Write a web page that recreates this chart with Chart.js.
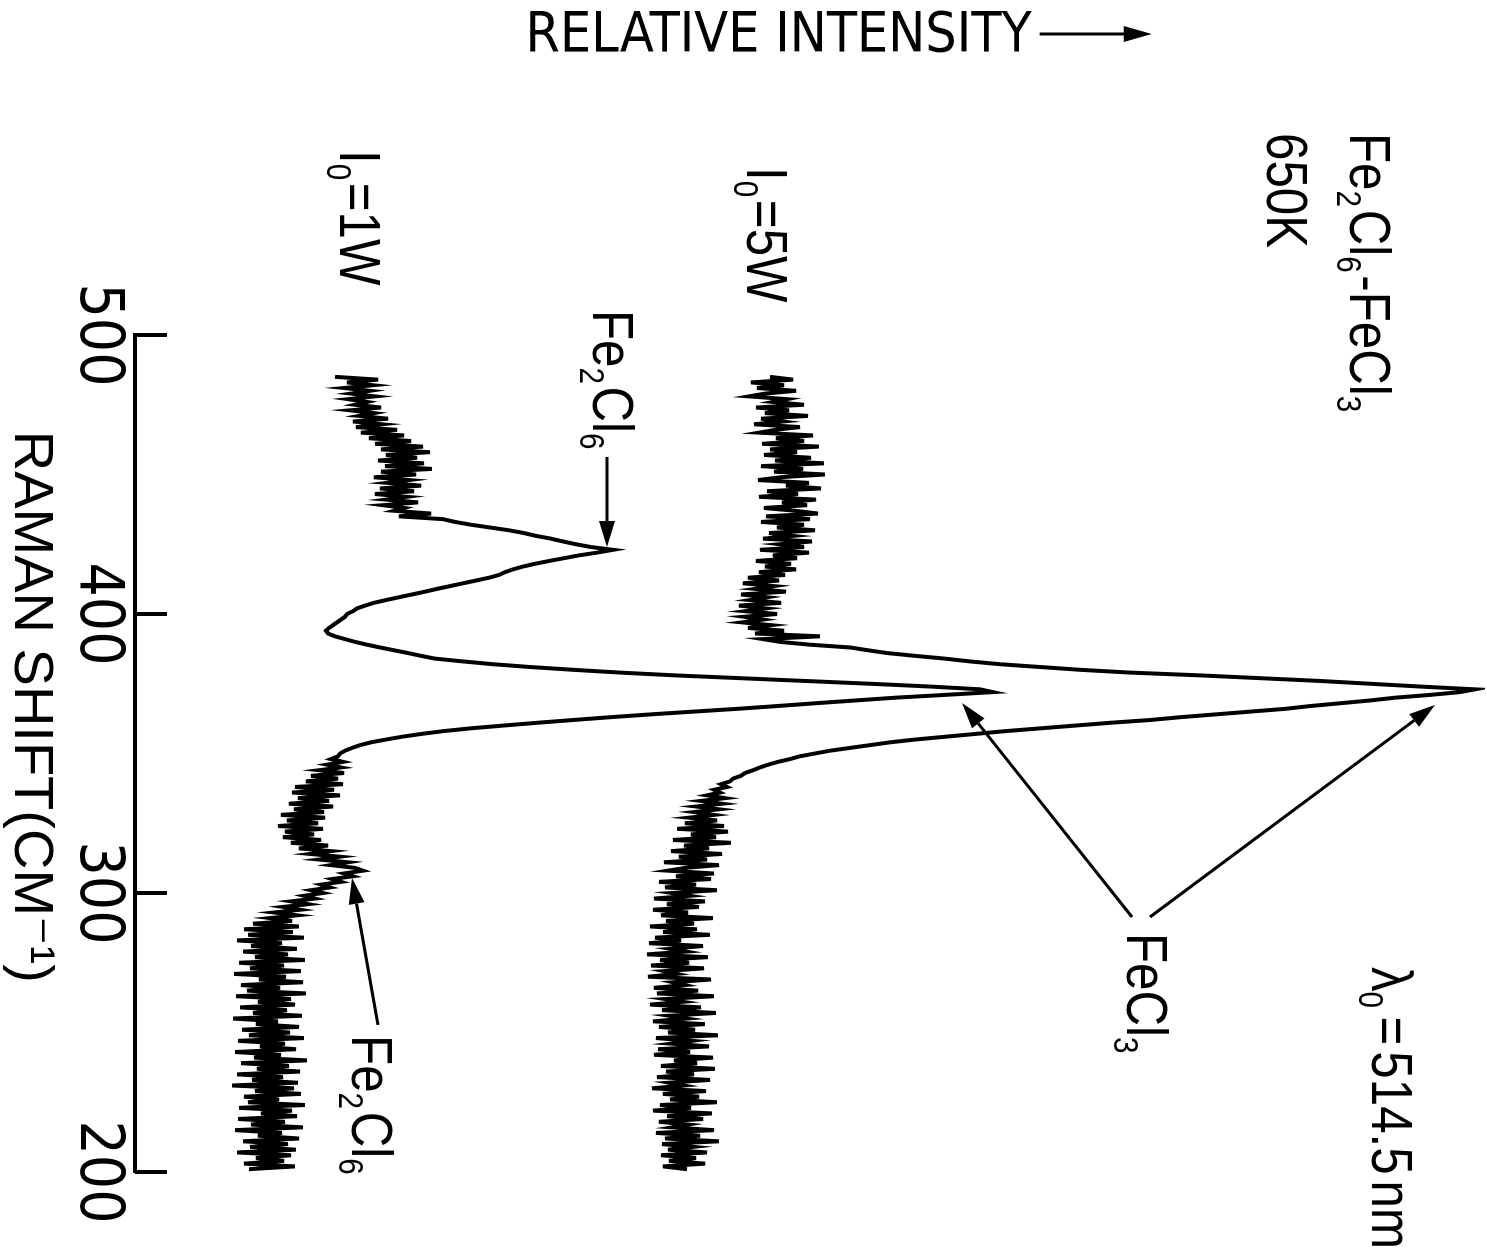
<!DOCTYPE html>
<html>
<head>
<meta charset="utf-8">
<script src="https://cdn.jsdelivr.net/npm/chart.js@4/dist/chart.umd.min.js"></script>
<style>
  html, body { margin: 0; padding: 0; background: #fff; width: 1487px; height: 1258px; overflow: hidden; }
  /* the plot is laid out upright, then turned a quarter turn clockwise so it reads sideways */
  #frame { position: absolute; left: 0; top: 0; width: 1258px; height: 1487px;
           transform-origin: 0 0; transform: translateX(1487px) rotate(90deg); }
</style>
</head>
<body>
<div id="frame"><canvas id="spectrum" width="1258" height="1487"></canvas></div>
<script>
// Raman spectra of Fe2Cl6 / FeCl3 vapour at 650 K for two laser powers.
// One sample per cm-1, from SHIFT_FIRST down to SHIFT_LAST.
const SHIFT_FIRST = 485;
const SHIFT_LAST = 201;
const shiftTicks = [500, 400, 300, 200];

const intensity5W = [
  63.5, 65.8, 61.6, 64.9, 62.2, 66.1, 63.0, 61.4, 65.2, 63.8,     // 485-476
  66.9, 62.1, 65.4, 63.0, 67.3, 62.6, 64.8, 61.9, 66.5, 64.0,     // 475-466
  62.4, 67.8, 64.1, 66.9, 62.7, 68.4, 63.5, 66.2, 62.9, 67.6,     // 465-456
  64.0, 68.9, 62.6, 66.8, 63.9, 69.0, 64.5, 62.3, 67.4, 65.1,     // 455-446
  68.6, 63.2, 66.3, 62.4, 68.1, 64.7, 67.2, 62.9, 66.0, 68.3,     // 445-436
  63.1, 67.5, 62.6, 66.9, 64.2, 68.0, 63.4, 65.8, 62.8, 67.7,     // 435-426
  64.5, 66.9, 62.5, 67.4, 63.8, 66.2, 62.1, 65.6, 63.0, 66.1,     // 425-416
  62.4, 65.0, 61.3, 64.4, 60.8, 63.9, 62.0, 65.1, 60.6, 63.2,     // 415-406
  61.5, 64.6, 60.4, 63.1, 61.0, 64.2, 60.9, 62.8, 60.7, 63.6,     // 405-396
  61.3, 64.9, 62.0, 68.5, 62.8, 64.5, 67.5, 71.5, 73.3, 75.2,     // 395-386
  78.0, 81.0, 83.5, 86.5, 90.5, 94.5, 99.5, 106.5, 112.5, 118.5,  // 385-376
  123.5, 128.5, 134.0, 132.5, 129.5, 126.0, 123.5, 120.5, 117.5, 115.0, // 375-366
  111.5, 108.0, 104.5, 101.5, 97.5, 94.0, 90.5, 87.0, 84.0, 81.0, // 365-356
  78.0, 75.5, 73.5, 71.5, 69.5, 68.0, 66.5, 65.5, 64.3, 63.3,     // 355-346
  62.5, 61.8, 61.0, 60.6, 59.8, 59.5, 58.6, 59.2, 57.9, 58.5,     // 345-336
  57.2, 59.0, 56.6, 58.7, 56.1, 58.4, 55.9, 57.9, 55.4, 58.2,     // 335-326
  55.0, 58.9, 54.2, 59.3, 55.6, 58.1, 53.8, 59.6, 54.9, 57.4,     // 325-316
  53.6, 58.7, 54.4, 57.2, 52.9, 58.4, 55.0, 53.3, 57.9, 54.1,     // 315-306
  57.6, 52.4, 56.1, 53.0, 58.2, 53.7, 55.5, 51.9, 57.0, 53.2,     // 305-296
  56.4, 51.8, 55.3, 52.6, 57.8, 53.1, 55.9, 51.5, 56.2, 52.8,     // 295-286
  57.5, 52.0, 54.6, 51.4, 56.8, 53.5, 55.1, 51.2, 57.3, 52.5,     // 285-276
  55.4, 51.6, 56.9, 52.9, 54.2, 51.3, 57.6, 53.8, 55.0, 51.9,     // 275-266
  56.3, 52.2, 57.9, 53.0, 54.8, 51.5, 56.6, 52.7, 58.1, 53.4,     // 265-256
  55.2, 51.8, 57.0, 52.4, 56.0, 53.3, 58.3, 52.1, 55.7, 53.6,     // 255-246
  57.4, 52.3, 55.5, 51.9, 57.8, 53.9, 56.2, 52.6, 58.0, 53.1,     // 245-236
  55.9, 52.2, 57.5, 53.4, 54.9, 51.7, 57.1, 52.8, 56.4, 53.5,     // 235-226
  58.2, 52.5, 55.6, 51.8, 57.7, 53.2, 56.8, 52.4, 55.3, 53.7,     // 225-216
  57.9, 52.1, 56.5, 53.0, 58.4, 52.7, 55.8, 53.3, 57.2, 52.6,     // 215-206
  56.1, 53.4, 57.0, 52.8, 55.2                                    // 205-201
];

const intensity1W = [
  20.0, 24.3, 21.2, 23.8, 20.9, 23.5, 21.6, 24.0, 21.3, 23.2,     // 485-476
  22.0, 24.6, 21.5, 23.9, 22.4, 25.3, 21.8, 24.7, 22.1, 26.2,     // 475-466
  22.6, 26.9, 23.4, 27.6, 24.0, 28.8, 24.6, 29.5, 25.1, 28.2,     // 465-456
  24.3, 28.9, 25.0, 29.7, 24.6, 28.1, 23.9, 27.4, 25.2, 28.6,     // 455-446
  24.5, 27.9, 24.0, 27.2, 25.1, 28.3, 24.8, 26.9, 25.9, 29.6,     // 445-436
  26.4, 30.8, 32.0, 33.6, 35.5, 37.4, 38.9, 40.1, 41.6, 42.8,     // 435-426
  44.1, 45.6, 47.8, 46.2, 44.4, 42.9, 41.4, 40.0, 38.8, 37.8,     // 425-416
  37.0, 36.4, 35.4, 34.1, 32.8, 31.5, 30.2, 29.0, 27.7, 26.4,     // 415-406
  25.1, 23.9, 23.0, 22.2, 21.8, 21.2, 21.0, 20.6, 20.2, 19.8,     // 405-396
  19.4, 19.1, 19.3, 20.0, 21.0, 22.0, 23.2, 24.5, 25.9, 27.3,     // 395-386
  28.6, 30.0, 32.8, 35.8, 39.5, 43.8, 48.5, 54.0, 60.5, 67.0,     // 385-376
  73.5, 79.5, 84.5, 85.8, 81.0, 76.0, 72.0, 68.0, 64.2, 60.2,     // 375-366
  55.8, 51.5, 47.5, 43.8, 40.2, 36.8, 33.5, 30.8, 28.6, 26.7,     // 365-356
  25.1, 23.6, 22.5, 21.7, 21.0, 20.5, 20.3, 19.6, 20.8, 19.2,     // 355-346
  20.6, 18.4, 20.9, 17.6, 20.3, 17.1, 20.8, 16.0, 19.9, 15.7,     // 345-336
  20.5, 16.3, 19.4, 15.4, 19.8, 15.9, 18.9, 14.6, 19.0, 15.2,     // 335-326
  18.3, 14.3, 18.8, 15.0, 17.9, 14.8, 18.6, 15.6, 19.3, 16.4,     // 325-316
  19.6, 17.5, 20.5, 18.4, 21.3, 19.6, 22.0, 22.8, 20.9, 21.8,     // 315-306
  19.7, 20.6, 18.6, 19.5, 17.6, 18.8, 16.9, 18.0, 15.6, 17.3,     // 305-296
  14.8, 16.5, 13.9, 16.2, 13.5, 15.7, 11.8, 16.4, 10.9, 15.8,     // 295-286
  11.3, 16.9, 10.2, 14.7, 11.6, 16.2, 10.8, 15.3, 12.0, 17.0,     // 285-276
  10.4, 14.9, 11.5, 16.6, 9.9, 15.1, 12.4, 16.8, 10.6, 14.5,      // 275-266
  11.2, 17.1, 10.1, 15.6, 12.3, 16.0, 10.5, 15.2, 11.8, 16.7,     // 265-256
  9.8, 14.3, 12.1, 16.4, 10.7, 15.5, 11.4, 16.9, 10.3, 15.0,      // 255-246
  12.5, 16.1, 10.0, 14.6, 11.9, 17.2, 10.6, 15.4, 12.2, 16.5,     // 245-236
  10.2, 14.8, 11.7, 16.3, 9.7, 15.9, 12.0, 16.6, 10.9, 14.4,      // 235-226
  11.3, 17.0, 10.4, 15.7, 12.6, 16.2, 10.3, 15.0, 11.6, 16.8,     // 225-216
  10.0, 14.7, 12.3, 16.4, 10.8, 15.3, 11.5, 16.1, 10.2, 15.6,     // 215-206
  12.1, 14.9, 10.9, 16.0, 11.4                                    // 205-201
];

// text labels: '_' puts the next character in subscript
const noteTexts = ['Fe_2Cl_6-FeCl_3', '650K', 'I_0=5W', 'I_0=1W', 'Fe_2Cl_6', 'FeCl_3', 'λ_0 = 514.5 nm', 'Fe_2Cl_6'];
const noteShift = [572.4, 572.4, 560.2, 566.3, 509.0, 285.7, 273.5, 249.1];
const noteLevel = [121.5, 113.2, 61.2, 20.5, 45.8, 99.2, 123.7, 21.7];

// pointer arrows, [shift, intensity] tail -> head
const arrowFrom = [[456.3, 47.2], [291.4, 99.7], [291.4, 101.5], [252.7, 24.3]];
const arrowTo   = [[424.0, 47.2], [368.1, 82.7], [367.4, 130.0], [305.4, 21.7]];

const INK = '#000';
const CONDENSED = "'DejaVu Sans Condensed', 'DejaVu Sans', sans-serif";
const REGULAR = "'Liberation Sans', 'DejaVu Sans', sans-serif";
const NOTE_SIZE = 58;
const NOTE_SQUEEZE = 0.85;
const Y_TITLE_SIZE = 55;
const Y_TITLE_PAD = 4;
const Y_TITLE = 'RELATIVE INTENSITY    ';

function toPoints(values) {
  return values.map((v, i) => ({ x: SHIFT_FIRST - i, y: v }));
}

// hand-lettered labels are narrow: draw squeezed horizontally, tight word gaps
function drawFormula(ctx, text, x, y, size) {
  ctx.save();
  ctx.translate(x, y);
  ctx.scale(NOTE_SQUEEZE, 1);
  let cx = 0;
  for (let i = 0; i < text.length; i++) {
    let ch = text[i];
    let sub = false;
    if (ch === '_') { sub = true; ch = text[++i]; }
    if (ch === ' ') { cx += size * 0.12; continue; }
    ctx.font = (sub ? Math.round(size * 0.6) : size) + 'px ' + REGULAR;
    ctx.fillText(ch, cx, sub ? size * 0.22 : 0);
    cx += ctx.measureText(ch).width + (sub ? 3 : 0);
  }
  ctx.restore();
}

function drawArrow(ctx, x1, y1, x2, y2) {
  const ang = Math.atan2(y2 - y1, x2 - x1);
  const head = 26, half = 8;
  const bx = x2 - head * Math.cos(ang);
  const by = y2 - head * Math.sin(ang);
  ctx.lineWidth = 3;
  ctx.beginPath();
  ctx.moveTo(x1, y1);
  ctx.lineTo(bx, by);
  ctx.stroke();
  ctx.beginPath();
  ctx.moveTo(x2, y2);
  ctx.lineTo(bx + half * Math.sin(ang), by - half * Math.cos(ang));
  ctx.lineTo(bx - half * Math.sin(ang), by + half * Math.cos(ang));
  ctx.closePath();
  ctx.fill();
}

// tick marks point inward from the shift axis
const innerTicks = {
  id: 'innerTicks',
  afterDraw(chart) {
    const { ctx, chartArea, scales: { x } } = chart;
    ctx.save();
    ctx.strokeStyle = INK;
    ctx.lineWidth = 4;
    x.ticks.forEach(t => {
      const px = x.getPixelForValue(t.value);
      ctx.beginPath();
      ctx.moveTo(px, chartArea.bottom);
      ctx.lineTo(px, chartArea.bottom - 32);
      ctx.stroke();
    });
    ctx.restore();
  }
};

const notes = {
  id: 'notes',
  afterDraw(chart) {
    const { ctx, chartArea, scales: { x, y } } = chart;
    ctx.save();
    ctx.fillStyle = INK;
    ctx.strokeStyle = INK;
    ctx.textAlign = 'left';
    ctx.textBaseline = 'alphabetic';
    noteTexts.forEach((txt, i) => {
      drawFormula(ctx, txt, x.getPixelForValue(noteShift[i]), y.getPixelForValue(noteLevel[i]), NOTE_SIZE);
    });
    arrowFrom.forEach((from, i) => {
      const to = arrowTo[i];
      drawArrow(ctx, x.getPixelForValue(from[0]), y.getPixelForValue(from[1]),
                x.getPixelForValue(to[0]), y.getPixelForValue(to[1]));
    });

    // arrow continuing the intensity axis title (title reads upward)
    ctx.font = Y_TITLE_SIZE + 'px ' + CONDENSED;
    const fullW = ctx.measureText(Y_TITLE).width;
    const textW = ctx.measureText(Y_TITLE.trimEnd()).width;
    const mid = (chartArea.top + chartArea.bottom) / 2;
    const endV = mid + fullW / 2 - textW;
    const u = y.left + Y_TITLE_PAD + Y_TITLE_SIZE * 1.2 / 2 - 3;
    ctx.lineWidth = 3;
    ctx.beginPath();
    ctx.moveTo(u, endV - 8);
    ctx.lineTo(u, endV - 96);
    ctx.stroke();
    ctx.beginPath();
    ctx.moveTo(u, endV - 120);
    ctx.lineTo(u - 8, endV - 92);
    ctx.lineTo(u + 8, endV - 92);
    ctx.closePath();
    ctx.fill();
    ctx.restore();
  }
};

const ctx = document.getElementById('spectrum').getContext('2d');
new Chart(ctx, {
  type: 'line',
  data: {
    datasets: [
      {
        label: 'I0=5W',
        data: toPoints(intensity5W),
        borderColor: INK,
        borderWidth: 4,
        pointRadius: 0,
        tension: 0
      },
      {
        label: 'I0=1W',
        data: toPoints(intensity1W),
        borderColor: INK,
        borderWidth: 4,
        pointRadius: 0,
        tension: 0
      }
    ]
  },
  options: {
    responsive: false,
    devicePixelRatio: 1,
    animation: false,
    events: [],
    layout: { padding: { top: 2, right: 86, bottom: 0, left: 0 } },
    plugins: {
      legend: { display: false },
      tooltip: { enabled: false }
    },
    scales: {
      x: {
        type: 'linear',
        position: 'bottom',
        reverse: true,
        min: SHIFT_LAST - 1,
        max: 500,
        afterBuildTicks: scale => { scale.ticks = shiftTicks.map(v => ({ value: v })); },
        afterFit: scale => { scale.height = 135; },
        grid: { display: false, drawTicks: false },
        border: { display: true, color: INK, width: 4 },
        ticks: {
          color: INK,
          padding: 2,
          maxRotation: 0,
          font: { family: CONDENSED, size: 60 }
        },
        title: {
          display: true,
          text: 'RAMAN SHIFT(CM⁻¹)      ',
          color: INK,
          padding: { top: 0, bottom: 0 },
          font: { family: REGULAR, size: 56, lineHeight: 1.1 }
        }
      },
      y: {
        type: 'linear',
        min: 0,
        max: 135,
        afterFit: scale => { scale.width = 335; },
        grid: { display: false },
        border: { display: false },
        ticks: { display: false },
        title: {
          display: true,
          text: Y_TITLE,
          color: INK,
          padding: { top: Y_TITLE_PAD, bottom: 0 },
          font: { family: CONDENSED, size: Y_TITLE_SIZE, lineHeight: 1.2 }
        }
      }
    }
  },
  plugins: [innerTicks, notes]
});
</script>
</body>
</html>
